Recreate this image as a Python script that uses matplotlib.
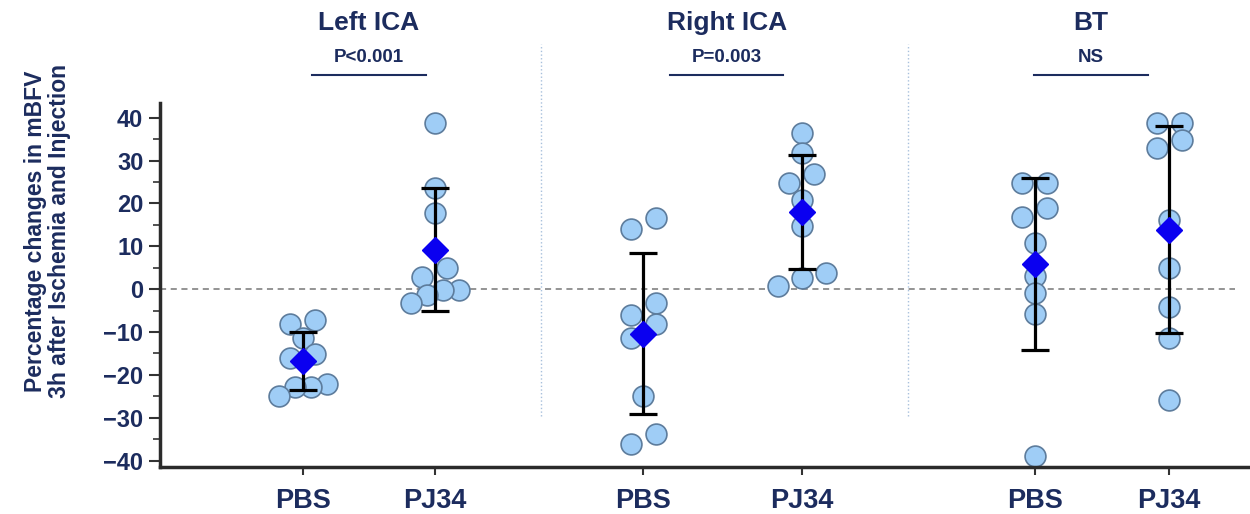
import numpy as np
import matplotlib
matplotlib.use("Agg")
import matplotlib.pyplot as plt
from matplotlib.ticker import MultipleLocator

# values (% change in mBFV)
left_pbs = [-7.2, -8.2, -11.4, -15.2, -16.1, -22.1, -22.8, -22.8, -24.9]
left_pj34 = [38.7, 23.5, 17.7, 4.9, 2.8, -0.2, -0.2, -1.4, -3.3]
right_pbs = [16.6, 14.0, -3.3, -6.1, -8.2, -11.4, -24.9, -33.8, -36.1]
right_pj34 = [36.4, 31.7, 26.8, 24.7, 20.7, 14.7, 3.7, 2.6, 0.7]
bt_pbs = [24.7, 24.7, 18.9, 16.8, 10.7, 3.0, -0.9, -5.8, -38.9]
bt_pj34 = [38.7, 38.7, 34.7, 32.9, 16.1, 4.9, -4.2, -11.4, -25.9]

groups = [left_pbs, left_pj34, right_pbs, right_pj34, bt_pbs, bt_pj34]
tick_labels = ["PBS", "PJ34", "PBS", "PJ34", "PBS", "PJ34"]
panel_titles = ["Left ICA", "Right ICA", "BT"]
p_labels = ["P<0.001", "P=0.003", "NS"]

navy = "#1c2c5e"
xpos = [1.0, 2.0, 3.576, 4.78, 6.545, 7.561]
label_x = [1.5, 4.21, 6.97]
dividers = [2.80, 5.58]

fig = plt.figure(figsize=(12.5, 5.14), dpi=100)
ax = fig.add_axes([0.128, 0.0914, 0.872, 0.708])
ax.set_xlim(-0.083, 8.174)
ax.set_ylim(-41.5, 43.4)

# pixel scales for the swarm layout
xpx = 0.872 * 1250 / (8.174 + 0.083)
ypx = 0.708 * 514 / (43.4 + 41.5)


def swarm(vals, row_gap=16.0):
    # points closer than row_gap px (vertically) share a row, spread symmetric
    vals = np.asarray(vals)
    order = np.argsort(-vals, kind="stable")
    rows, cur = [], [order[0]]
    for i in order[1:]:
        if (vals[cur[0]] - vals[i]) * ypx < row_gap:
            cur.append(i)
        else:
            rows.append(cur)
            cur = [i]
    rows.append(cur)
    offs = np.zeros(len(vals))
    for r in rows:
        n = len(r)
        if n == 1:
            continue
        sp = min(25.0, 48.0 / (n - 1))
        for j, i in enumerate(r):
            offs[i] = ((n - 1) / 2 - j) * sp
    return offs / xpx


for x, vals in zip(xpos, groups):
    vals = np.asarray(vals)
    ax.scatter(x + swarm(vals), vals, s=225, color="#9fcdf6", edgecolor="#5d7c9c",
               linewidth=1.2, zorder=2)
    m = vals.mean()
    sd = vals.std(ddof=1)
    ax.errorbar(x, m, yerr=sd, color="black", elinewidth=2.3, capsize=10, capthick=2.3,
                fmt="none", zorder=3)
    ax.plot(x, m, marker="D", ms=13.5, color="#0a00f0", mec="#0a00f0", zorder=4)

ax.plot([-0.083, 8.06], [0, 0], color="#777777", lw=1.1, ls=(0, (4, 3)), zorder=1)

for dx in dividers:
    ax.plot([dx, dx], [-29.6, 57.3], color="#a8c0dc", lw=1, ls=":", clip_on=False, zorder=0)

for lx, t, p in zip(label_x, panel_titles, p_labels):
    ax.text(lx, 62.2, t, ha="center", va="center", fontsize=19, fontweight="bold",
            color=navy, family="Liberation Sans", clip_on=False)
    ax.text(lx, 54.1, p, ha="center", va="center", fontsize=13.5, fontweight="bold",
            color=navy, family="Liberation Sans", clip_on=False)
    ax.plot([lx - 0.43, lx + 0.43], [49.9, 49.9], color=navy, lw=1.5, clip_on=False)

ax.set_xticks(xpos)
ax.set_xticklabels(tick_labels, fontsize=19.5, fontweight="bold", color=navy,
                   family="Liberation Sans")
ax.yaxis.set_major_locator(MultipleLocator(10))
ax.yaxis.set_minor_locator(MultipleLocator(5))
for lab in ax.get_yticklabels():
    lab.set_fontsize(17)
    lab.set_fontweight("bold")
    lab.set_color(navy)
    lab.set_family("Liberation Sans")
ax.tick_params(axis="y", which="major", length=8, width=1.5, color="#333333", pad=4)
ax.tick_params(axis="y", which="minor", length=5, width=1.2, color="#333333")
ax.tick_params(axis="x", length=6, width=1.5, color="#333333", pad=9)

for s in ["top", "right"]:
    ax.spines[s].set_visible(False)
for s in ["left", "bottom"]:
    ax.spines[s].set_linewidth(2.5)
    ax.spines[s].set_color("#2b2b2b")

fig.text(0.038, 0.55, "Percentage changes in mBFV\n3h after Ischemia and Injection",
         rotation=90, ha="center", va="center", fontsize=16.5, fontweight="bold",
         color=navy, family="Liberation Sans", linespacing=1.1)

fig.savefig("out.png", dpi=100)
